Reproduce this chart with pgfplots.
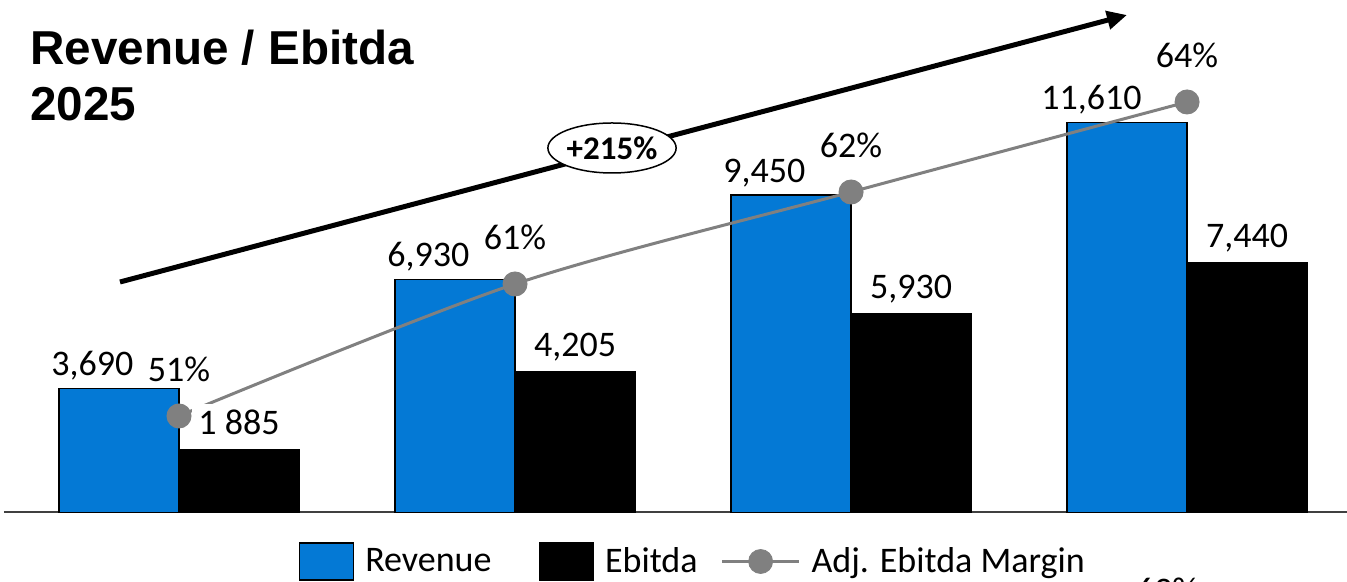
\documentclass[border=0pt]{standalone}
\usepackage{pgfplots}
\pgfplotsset{compat=1.18}
\usepackage{fontspec}
\setmainfont{Carlito}
\newfontfamily\titlefont{Liberation Sans}
\usetikzlibrary{arrows.meta,shapes.geometric}
\definecolor{revblue}{HTML}{0479D5}
\definecolor{linegray}{HTML}{808080}

\begin{document}
\begin{tikzpicture}
\useasboundingbox (0pt,0pt) rectangle (673.5pt,291pt);
\clip (0pt,0pt) rectangle (673.5pt,291pt);
\begin{axis}[
  at={(2pt,34.75pt)}, anchor=south west,
  scale only axis, width=671.5pt, height=256.25pt,
  xmin=-0.5208, xmax=3.476, ymin=0, ymax=15257,
  axis x line*=bottom, axis y line=none,
  x axis line style={black!75, line width=1pt},
  xtick=\empty, ytick=\empty,
  clip=false,
  legend columns=3,
  legend style={draw=none, fill=none, inner sep=0pt, outer sep=0pt,
    at={(0.2197,-0.0956)}, anchor=west,
    font=\fontsize{18}{20}\selectfont,
    /tikz/every even column/.append style={column sep=9.5pt}},
]
% Revenue bars
\addplot[forget plot, ybar, bar width=60pt, bar shift=-30pt, fill=revblue, draw=black, line width=0.6pt,
  nodes near coords, point meta=explicit symbolic,
  every node near coord/.append style={anchor=base east, xshift=-22.5pt, yshift=6.5pt, inner sep=0pt, text=black, font=\fontsize{18}{20}\selectfont}]
  coordinates {(0,3690) [{3,690}] (1,6930) [{6,930}] (2,9450) [{9,450}] (3,11610) [{11,610}]};
% Adj. Ebitda Margin line
\addplot[forget plot, color=linegray, line width=1.5pt, smooth, tension=0.5,
  mark=*, mark size=6pt, mark options={fill=linegray, draw=linegray, line width=0.5pt},
  nodes near coords, point meta=explicit symbolic,
  every node near coord/.append style={anchor=base, yshift=17pt, inner sep=0pt, text=black, font=\fontsize{18}{20}\selectfont}]
  coordinates {(0,2873) [51\%] (1,6803) [61\%] (2,9541) [62\%] (3,12221) [64\%]};
% Ebitda bars
\addplot[forget plot, ybar, bar width=60pt, bar shift=30pt, fill=black, draw=black, line width=0.6pt,
  nodes near coords, point meta=explicit symbolic,
  every node near coord/.append style={anchor=base, xshift=30pt, yshift=7.5pt, inner sep=3pt, fill=white, text=black, font=\fontsize{18}{20}\selectfont}]
  coordinates {(0,1885) [1 885] (1,4205) [{4,205}] (2,5930) [{5,930}] (3,7440) [{7,440}]};

\addlegendimage{legend image code/.code={\draw[fill=revblue,draw=black,line width=0.6pt] (0pt,-9.25pt) rectangle (27pt,9.25pt);}}
\addlegendentry{\hspace{3.5pt}Revenue}
\addlegendimage{legend image code/.code={\path[draw=none,fill=none] (-12.5pt,0pt) rectangle (0pt,0.1pt); \draw[fill=black,draw=black,line width=0.6pt] (0pt,-9.25pt) rectangle (27pt,9.25pt);}}
\addlegendentry{\hspace{3.5pt}Ebitda}
\addlegendimage{legend image code/.code={\draw[linegray,line width=1.5pt] (0pt,0pt) -- (38.5pt,0pt); \fill[linegray] (19.25pt,0pt) circle (6pt);}}
\addlegendentry{\hspace{3.5pt}Adj. Ebitda Margin}
\end{axis}

% growth arrow and badge
\draw[line width=2.5pt, -{Triangle[length=10pt,width=9pt]}] (60pt,150pt) -- (563.5pt,283.5pt);
\node[ellipse, draw, fill=white, line width=0.75pt, minimum width=60pt, minimum height=25pt, inner sep=0pt,
  font=\bfseries\fontsize{16.5}{18}\selectfont] at (306pt,217pt) {+215\%};

% title
\node[anchor=base west, inner sep=0pt, font=\titlefont\bfseries\fontsize{23.8}{28}\selectfont] at (15pt,258.5pt) {Revenue / Ebitda};
\node[anchor=base west, inner sep=0pt, font=\titlefont\bfseries\fontsize{23.8}{28}\selectfont] at (15pt,230.5pt) {2025};

% stray label cut off at the bottom edge
\node[anchor=base, inner sep=0pt, font=\fontsize{18}{20}\selectfont] at (583.5pt,-10.5pt) {63\%};
\end{tikzpicture}
\end{document}
